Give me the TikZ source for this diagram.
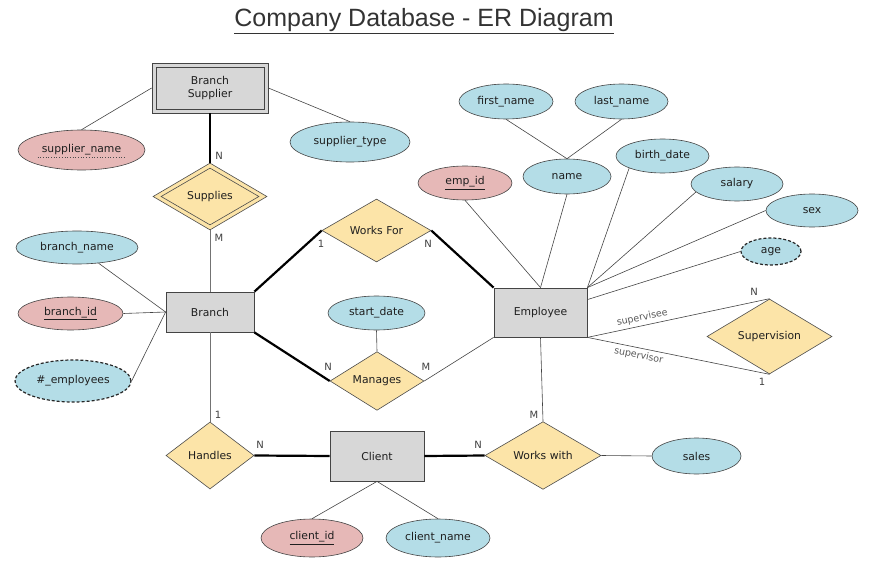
\documentclass[tikz,border=0pt]{standalone}
\usepackage{fontspec}
\setmainfont{DejaVu Sans}
\newfontfamily\titlefont{Liberation Sans}
\usetikzlibrary{shapes.geometric,calc}
\definecolor{entfill}{HTML}{D7D7D7}
\definecolor{attrblue}{HTML}{B4DDE7}
\definecolor{keypink}{HTML}{E6B8B7}
\definecolor{relyellow}{HTML}{FCE4A8}
\definecolor{linegray}{HTML}{444444}
\definecolor{cardgray}{HTML}{404040}
\tikzset{
  entity/.style={rectangle, draw=linegray, fill=entfill, inner sep=0pt, line width=0.8pt},
  attr/.style={ellipse, draw=linegray, fill=attrblue, inner sep=0pt, line width=0.6pt},
  keyattr/.style={attr, fill=keypink},
  derived/.style={attr, draw=black!85, line width=1.2pt, dash pattern=on 3pt off 2pt},
  rel/.style={diamond, draw=black!70, fill=relyellow, inner sep=0pt, line width=0.6pt},
  conn/.style={draw=linegray, line width=0.6pt},
  lightconn/.style={draw=black!55, line width=0.7pt},
  strong/.style={draw=black, line width=2.2pt},
  card/.style={font=\fontsize{10}{12}\selectfont, text=cardgray, inner sep=0pt},
  rolelab/.style={font=\fontsize{9.5}{11}\selectfont, text=black!65, inner sep=0pt},
  every node/.append style={font=\fontsize{10.8}{12.8}\selectfont, text=black!88}
}
\begin{document}
\begin{tikzpicture}[x=1pt,y=-1pt]
\useasboundingbox (0,0) rectangle (880,572);
% title
\node (title) at (424,21) {\titlefont\fontsize{25}{28}\selectfont\color{black!80}\underline{Company Database - ER Diagram}};

% entities
\node[entity, minimum width=116, minimum height=50] (bso) at (210,88) {};
\node[entity, minimum width=108, minimum height=42, align=center] (bs) at (210,88) {Branch\\Supplier};
\node[entity, minimum width=88, minimum height=40] (branch) at (210,312) {Branch};
\node[entity, minimum width=93, minimum height=49] (emp) at (540.5,312.5) {Employee};
\node[entity, minimum width=94, minimum height=50] (client) at (377,456) {Client};

% relationships
\node[rel, minimum width=114, minimum height=67] (supo) at (210,196.5) {};
\node[rel, minimum width=98, minimum height=57] (sup) at (210,196.5) {Supplies};
\node[rel, minimum width=109, minimum height=63] (wf) at (376.5,230.5) {Works For};
\node[rel, minimum width=94, minimum height=54] (man) at (377,381) {Manages};
\node[rel, minimum width=88, minimum height=67] (han) at (210,455.5) {Handles};
\node[rel, minimum width=116, minimum height=67] (ww) at (543,455.5) {Works with};
\node[rel, minimum width=125, minimum height=75] (svn) at (769.5,336.5) {Supervision};

% attributes
\node[keyattr, minimum width=127, minimum height=40] (sname) at (81.5,150) {supplier\_name};
\node[attr, minimum width=120, minimum height=40] (stype) at (350,142) {supplier\_type};
\node[attr, minimum width=122, minimum height=33] (bname) at (77,247.5) {branch\_name};
\node[keyattr, minimum width=105, minimum height=33] (bid) at (70.5,313.5) {\underline{branch\_id}};
\node[derived, minimum width=116, minimum height=42] (nemp) at (73,381) {\#\_employees};
\node[attr, minimum width=97, minimum height=34] (sdate) at (376.5,313) {start\_date};
\node[keyattr, minimum width=94, minimum height=34] (eid) at (465,183) {\underline{emp\_id}};
\node[attr, minimum width=88, minimum height=35] (name) at (567,176.5) {name};
\node[attr, minimum width=94, minimum height=35] (fname) at (506,101.5) {first\_name};
\node[attr, minimum width=93, minimum height=35] (lname) at (621.5,101.5) {last\_name};
\node[attr, minimum width=93, minimum height=34] (bdate) at (662.5,156) {birth\_date};
\node[attr, minimum width=92, minimum height=34] (sal) at (737,184) {salary};
\node[attr, minimum width=92, minimum height=33] (sex) at (812,210.5) {sex};
\node[derived, minimum width=60, minimum height=27] (age) at (771,251.5) {age};
\node[attr, minimum width=89, minimum height=36] (sales) at (696.5,456) {sales};
\node[keyattr, minimum width=102, minimum height=38] (cid) at (312,538) {\underline{client\_id}};
\node[attr, minimum width=104, minimum height=38] (cname) at (438,538) {client\_name};

% dotted underline of the partial key
\draw[black!70, dotted, line width=0.7pt] ($(sname.center)+(-44,7)$) -- ($(sname.center)+(44,7)$);

% attribute connectors
\draw[conn] (bso.west) -- (sname.north);
\draw[conn] (bso.east) -- (stype.north);
\draw[conn] (bname) -- (branch.west);
\draw[conn] (bid.east) -- (branch.west);
\draw[conn] (nemp.east) -- (branch.west);
\draw[conn] (sdate.south) -- (man.north);
\draw[conn] (fname.south) -- (name.north);
\draw[conn] (lname.south) -- (name.north);
\draw[conn] (eid.south) -- (emp.north);
\draw[conn] (name.south) -- (emp.north);
\draw[conn] (bdate.200) -- (emp.north east);
\draw[conn] (sal.191) -- (emp.north east);
\draw[conn] (sex.west) -- (emp.north east);
\draw[conn] (age.west) -- ($(emp.north east)+(0,12)$);
\draw[conn] (ww.east) -- (sales.west);
\draw[conn] (client.south) -- (cid.north);
\draw[conn] (client.south) -- (cname.north);

% relationship connectors
\draw[strong] (bso.south) -- (supo.north);
\draw[lightconn] (supo.south) -- (branch.north);
\draw[strong] (branch.north east) -- (wf.west);
\draw[strong] (wf.east) -- (emp.north west);
\draw[strong] (branch.south east) -- (man.west);
\draw[conn] (man.east) -- (emp.south west);
\draw[lightconn] (branch.south) -- (han.north);
\draw[strong] (han.east) -- (client.west);
\draw[strong] (client.east) -- (ww.west);
\draw[conn] (emp.south) -- (ww.north);
\draw[conn] (emp.south east) -- node[rolelab, sloped, above=3pt, pos=0.31] (lsvee) {supervisee} (svn.north);
\draw[conn] (emp.south east) -- node[rolelab, sloped, below=3pt, pos=0.29] (lsvor) {supervisor} (svn.south);

% cardinalities
\node[card] (c1) at (219,156) {N};
\node[card] (c2) at (219,238) {M};
\node[card] (c3) at (321,244) {1};
\node[card] (c4) at (428,244) {N};
\node[card] (c5) at (328,367) {N};
\node[card] (c6) at (426,367) {M};
\node[card] (c7) at (218,415) {1};
\node[card] (c8) at (260,445) {N};
\node[card] (c9) at (478,445) {N};
\node[card] (c10) at (534,415) {M};
\node[card] (c11) at (754,292) {N};
\node[card] (c12) at (762,382) {1};
\end{tikzpicture}
\end{document}
